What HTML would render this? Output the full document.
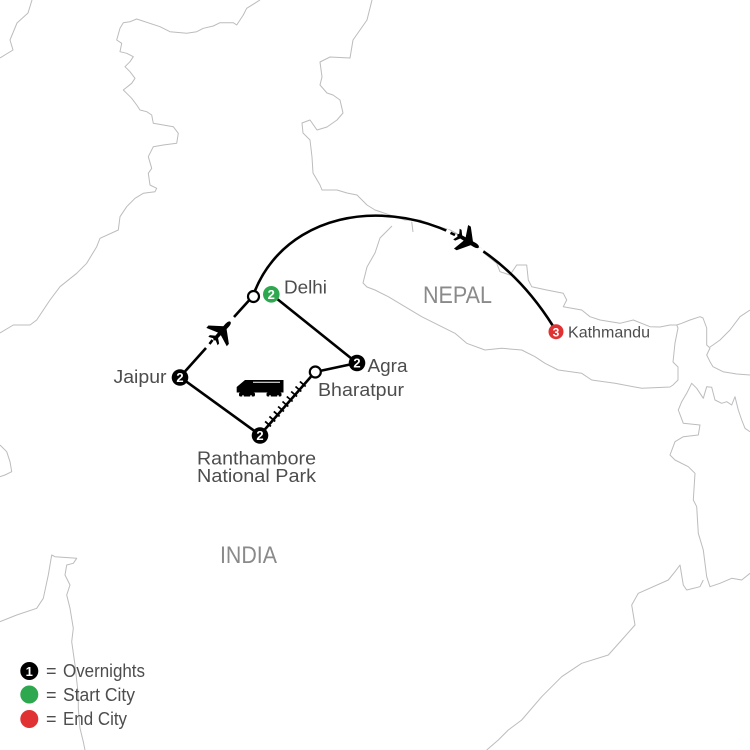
<!DOCTYPE html>
<html><head><meta charset="utf-8"><style>
html,body{margin:0;padding:0;background:#fff;}
svg{display:block;}
text{font-family:"Liberation Sans",Arial,sans-serif;}
</style></head><body>
<svg width="750" height="750" viewBox="0 0 750 750" xmlns="http://www.w3.org/2000/svg">
<rect width="750" height="750" fill="#fff"/>
<g fill="none" stroke="#bcbcbc" stroke-width="1" stroke-linejoin="round">
<polyline points="32,0 28,13 17,23 10,40 13,50 0,58"/>
<polyline points="260,0 246.7,8.3 243.3,15 240,20 236.7,25 233.3,22.7 220,22.7 213.3,26 203.3,28.3 196.7,31.7 186.7,33.3 170,31.7 160,26.7 136.7,19 130,21.7 123.3,22.7 120,28.3 116.7,40 121.7,43.3 120,51.7 126.7,53.3 133.3,56.7 130,61.7 125,66.7 130,71.7 135,78.3 131.7,83.3 123.3,90 126.7,93.3 131.7,98.3 136.7,105 140,110 146.7,111.7 151.7,115 153.3,123.3 173.3,126.7 178.3,133.3 176.7,143.3 163.3,145 153.3,146.7 148.3,156.7 151.7,168.3 148.3,173.3 150,185 156.7,188.3 155,191.7 143.3,193.3 135,198.3 126.7,206.7 120,216.7 118.3,230 100,238.3 96.7,246.7 86.7,263.3 76.7,273.3 60,286.7 50,300 36.7,320 30,325 13.3,325 0,333"/>
<polyline points="372,0 367,20 360,30 353,40 350,58 330,57 320,62 322,77 320,85 327,93 333,95 340,100 343,113 337,120 327,127 317,130 310,120 302,123 303,133 310,140 312,157 313,173 320,185 322,190 337,190 347,193 357,195 367,205 375,210 385,213.3 395,216.7 405,220 420,220 433,225 450,230 465,238 480,250 496.7,263.3 500,271.7 510,275 516.7,265 526.7,265 528.3,280 531.7,286.7 546.7,290 563.3,293.3 566.7,300 563.3,306.7 581.7,310 590,316.7 600,320 620,323.3 633.3,320 650,326.7 660,327 670,325 676.7,325 681.7,323.3 690,320 700,316.7 703,318 706.7,328 706.7,345 710,348 706.7,355 710,361.7 713,366.7 723,371.7 736.7,374 750,375"/>
<polyline points="411.7,221.7 413,232"/>
<polyline points="392,226 380,238 375,253 367,267 363,283 367,287 375,290 388.3,296.7 405,306.7 421.7,316.7 441.7,326.7 455,333.3 466.7,343.3 485,350 501.7,348.3 521.7,350 535,356.7 545,363.3 558.3,370 581.7,373.3 591.7,380 615,383.3 641.7,388.3 670,387 673,385 678,380 678,367 673,362 675,343 678,328 676.7,325"/>
<polyline points="750,310 740,316.7 730,330 720,340 713,345 710,347"/>
<polyline points="750,431.7 745,428.3 741.7,420 738.3,410 735,396.7 731.7,405 726.7,401.7 721.7,403.3 715,400 711.7,387.3 706.7,386.7 703.3,398.3 696.7,388.3 691.7,383.3 686.7,393.3 681.7,401.7 678.3,410 683.3,423.3 700,425 698.3,435 683.3,436.7 675,441.7 670,455 675,460 688.3,466.7 695,473.3 693.3,500 696.7,506.7 698.3,533.3 703.3,550 706.7,576.7 710,586.7 720,583.3 731.7,578.3 741.7,580 750,573.3"/>
<polyline points="703.3,580 700,586.7 686.7,590 683.3,585 680,565 675,571.7 668.3,580 638.3,593.3 631.7,605 635,625 621.7,640 608.3,655 581.7,663.3 561.7,676.7 541.7,696.7 521.7,720 508.3,730 498.3,740 486.7,750"/>
<polyline points="0,445 6.7,451.7 10,461.7 11.7,471.7 5,475 0,476.7"/>
<polyline points="0,621.7 16.7,615 36.7,608.3 43.3,598.3 48.3,575 51.7,555 55,556.7 76.7,558.3 73.3,563.3 66.7,565 65,575 70,585 66.7,595 70,608.3 73.3,628.3 71.7,641.7 75,665 78.3,695 78.3,708.3 80,728.3 83.3,741.7 85,750"/>
</g>

<text x="423" y="303" font-size="24" fill="#8a8a8a" textLength="69" lengthAdjust="spacingAndGlyphs">NEPAL</text>
<text x="220" y="563" font-size="24" fill="#8a8a8a" textLength="57" lengthAdjust="spacingAndGlyphs">INDIA</text>

<g stroke="#000" stroke-width="2.6" fill="none" stroke-linecap="butt">
<path d="M253,296 C290,190 460,178 553,326"/>
<line x1="253" y1="296" x2="234" y2="317"/>
<line x1="212.5" y1="340" x2="209.5" y2="344"/>
<line x1="206" y1="348" x2="180" y2="377"/>
<line x1="180" y1="377" x2="260" y2="435"/>
<line x1="260" y1="435" x2="315" y2="372"/>
<line x1="315" y1="372" x2="357" y2="363"/>
<line x1="271" y1="294" x2="357" y2="363"/>
</g>
<line x1="446" y1="231" x2="483" y2="252" stroke="#fff" stroke-width="5"/>
<line x1="450.5" y1="232.8" x2="455" y2="235" stroke="#000" stroke-width="2.6"/>

<g stroke="#000" stroke-width="1.8">
<line x1="265.1" y1="421.4" x2="270.9" y2="426.4"/>
<line x1="269.4" y1="416.4" x2="275.2" y2="421.4"/>
<line x1="273.8" y1="411.4" x2="279.6" y2="416.4"/>
<line x1="278.1" y1="406.5" x2="283.9" y2="411.5"/>
<line x1="282.5" y1="401.5" x2="288.3" y2="406.5"/>
<line x1="286.8" y1="396.5" x2="292.6" y2="401.5"/>
<line x1="291.2" y1="391.5" x2="297" y2="396.5"/>
<line x1="295.5" y1="386.5" x2="301.3" y2="391.5"/>
<line x1="299.9" y1="381.5" x2="305.7" y2="386.5"/>
</g>

<g transform="translate(468,241) rotate(31) scale(1.25)" fill="#000">
<path d="M10,0 C10,-1.3 8,-1.8 6,-1.8 L-9,-1.4 L-10,0 L-9,1.4 L6,1.8 C8,1.8 10,1.3 10,0 Z"/>
<path d="M4,-1.2 L-4,-11 L-6.5,-11 L-3,-1.2 Z"/>
<path d="M4,1.2 L-4,11 L-6.5,11 L-3,1.2 Z"/>
<path d="M-6,-1 L-9,-5 L-10.8,-5 L-8.8,-1 Z"/>
<path d="M-6,1 L-9,5 L-10.8,5 L-8.8,1 Z"/>
</g>
<g transform="translate(222,331) rotate(-48) scale(1.25)" fill="#000">
<path d="M10,0 C10,-1.3 8,-1.8 6,-1.8 L-9,-1.4 L-10,0 L-9,1.4 L6,1.8 C8,1.8 10,1.3 10,0 Z"/>
<path d="M4,-1.2 L-4,-11 L-6.5,-11 L-3,-1.2 Z"/>
<path d="M4,1.2 L-4,11 L-6.5,11 L-3,1.2 Z"/>
<path d="M-6,-1 L-9,-5 L-10.8,-5 L-8.8,-1 Z"/>
<path d="M-6,1 L-9,5 L-10.8,5 L-8.8,1 Z"/>
</g>

<g>
<path d="M245,380 L283.5,380 L283.5,392.5 L236.7,392.5 L236.7,387 Z" fill="#000"/>
<line x1="253" y1="382.3" x2="280" y2="382.3" stroke="#fff" stroke-width="1"/>
<rect x="239" y="392.5" width="16" height="4" rx="1.5" fill="#000"/>
<rect x="266.5" y="392.5" width="15" height="4" rx="1.5" fill="#000"/>
<circle cx="243" cy="396" r="0.9" fill="#fff"/>
<circle cx="251" cy="396" r="0.9" fill="#fff"/>
<circle cx="270" cy="396" r="0.9" fill="#fff"/>
<circle cx="278" cy="396" r="0.9" fill="#fff"/>
</g>

<circle cx="253.5" cy="296.5" r="5.5" fill="#fff" stroke="#000" stroke-width="2.2"/>
<circle cx="315.3" cy="372" r="5.5" fill="#fff" stroke="#000" stroke-width="2.2"/>

<g font-weight="bold" font-size="13" text-anchor="middle" fill="#fff">
<circle cx="271.3" cy="294.3" r="8.3" fill="#2ea84f"/>
<text x="271.3" y="299">2</text>
<circle cx="180" cy="377.5" r="8.3" fill="#000"/>
<text x="180" y="382.2">2</text>
<circle cx="357" cy="363" r="8.3" fill="#000"/>
<text x="357" y="367.7">2</text>
<circle cx="260" cy="435.5" r="8.3" fill="#000"/>
<text x="260" y="440.2">2</text>
<circle cx="556" cy="331.7" r="7.5" fill="#e03232"/>
<text x="556" y="336.3" font-size="12">3</text>
</g>

<g fill="#4d4d4d" font-size="18">
<text x="284" y="293.5" textLength="43" lengthAdjust="spacingAndGlyphs">Delhi</text>
<text x="367.5" y="372" textLength="40" lengthAdjust="spacingAndGlyphs">Agra</text>
<text x="318" y="396" textLength="86" lengthAdjust="spacingAndGlyphs">Bharatpur</text>
<text x="113.5" y="383" textLength="53" lengthAdjust="spacingAndGlyphs">Jaipur</text>
<text x="197" y="464.5" textLength="119" lengthAdjust="spacingAndGlyphs">Ranthambore</text>
<text x="197" y="482" textLength="119" lengthAdjust="spacingAndGlyphs">National Park</text>
<text x="568" y="337.5" font-size="16" textLength="82" lengthAdjust="spacingAndGlyphs">Kathmandu</text>
</g>

<circle cx="29.3" cy="671" r="9" fill="#000"/>
<text x="29.3" y="676" font-size="13" font-weight="bold" fill="#fff" text-anchor="middle">1</text>
<circle cx="29.3" cy="694.5" r="9" fill="#2ea84f"/>
<circle cx="29.3" cy="719" r="9" fill="#e03232"/>
<g fill="#4d4d4d" font-size="18">
<text x="46" y="677">=</text>
<text x="46" y="701">=</text>
<text x="46" y="725">=</text>
<text x="63" y="677" textLength="82" lengthAdjust="spacingAndGlyphs">Overnights</text>
<text x="63" y="701" textLength="72" lengthAdjust="spacingAndGlyphs">Start City</text>
<text x="63" y="725" textLength="64" lengthAdjust="spacingAndGlyphs">End City</text>
</g>
</svg>
</body></html>
